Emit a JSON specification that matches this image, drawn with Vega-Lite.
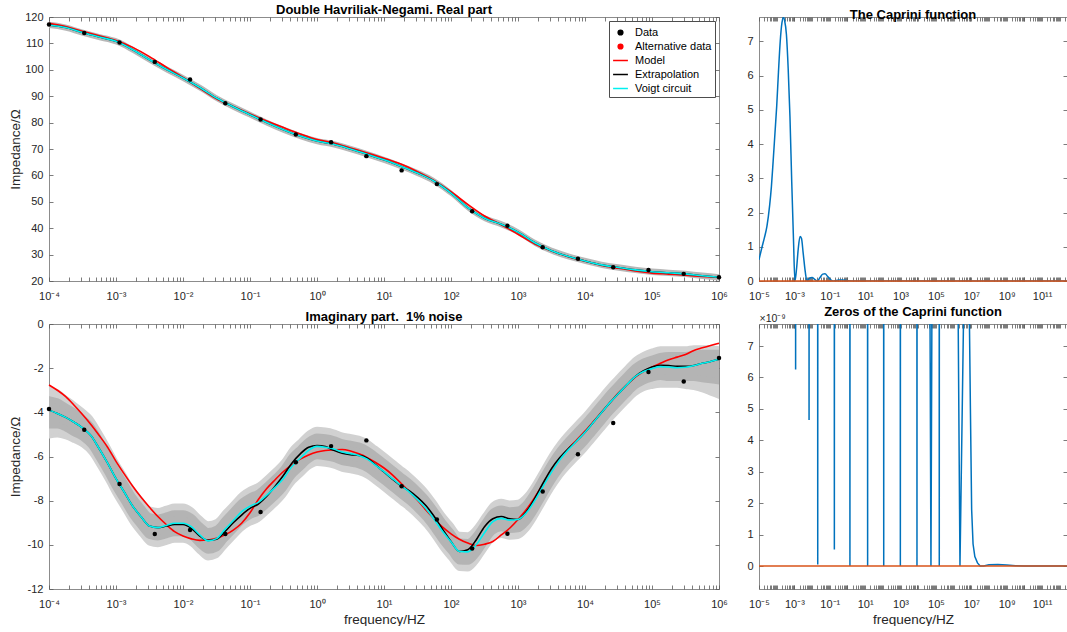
{
  "$schema": "https://vega.github.io/schema/vega-lite/v6.json",
  "background": "white",
  "padding": {"left": 7, "top": 3, "right": 0, "bottom": 0},
  "config": {
    "font": "Liberation Sans",
    "view": {"stroke": "#8c8c8c", "strokeWidth": 1},
    "axis": {"domain": false, "grid": false, "tickSize": -4, "tickColor": "#5a5a5a", "tickWidth": 0.8, "labelOverlap": false, "labelFont": "Liberation Sans", "labelFontSize": 11, "labelColor": "#262626", "titleFont": "Liberation Sans", "titleFontSize": 13.5, "titleFontWeight": "normal", "titleColor": "#262626"},
    "axisX": {"labelPadding": 13},
    "axisY": {"labelPadding": 10},
    "title": {"font": "Liberation Sans", "fontSize": 13, "fontWeight": "bold", "color": "#000000", "offset": -5.5, "baseline": "alphabetic", "anchor": "middle"},
    "legend": {"labelFont": "Liberation Sans", "labelFontSize": 11, "labelColor": "#000000", "padding": 3, "rowPadding": 0, "symbolSize": 100, "labelOffset": 6, "symbolStrokeWidth": 1.5, "strokeColor": "#4d4d4d", "fillColor": "#ffffff"}
  },
  "datasets": {
    "realc": [
      {"f":1e-4,"c":117.0,"r":117.6,"lo":115.8,"hi":118.2},
      {"f":1.7783e-4,"c":116.0,"r":116.4,"lo":114.8,"hi":117.2},
      {"f":3.1623e-4,"c":114.1,"r":114.6,"lo":112.9,"hi":115.3},
      {"f":5.6234e-4,"c":112.4,"r":112.9,"lo":111.2,"hi":113.6},
      {"f":1e-3,"c":110.8,"r":111.1,"lo":109.6,"hi":112.0},
      {"f":1.7783e-3,"c":107.6,"r":108.5,"lo":106.4,"hi":108.8},
      {"f":3.1623e-3,"c":103.8,"r":105.0,"lo":102.6,"hi":105.0},
      {"f":5.6234e-3,"c":100.2,"r":101.0,"lo":99.0,"hi":101.4},
      {"f":1e-2,"c":96.9,"r":97.1,"lo":95.7,"hi":98.1},
      {"f":1.7783e-2,"c":93.3,"r":93.0,"lo":92.1,"hi":94.5},
      {"f":3.1623e-2,"c":89.3,"r":89.0,"lo":88.1,"hi":90.5},
      {"f":5.6234e-2,"c":86.0,"r":86.1,"lo":84.8,"hi":87.2},
      {"f":0.1,"c":83.0,"r":83.3,"lo":81.8,"hi":84.2},
      {"f":0.17783,"c":80.0,"r":80.6,"lo":78.8,"hi":81.2},
      {"f":0.31623,"c":77.3,"r":78.1,"lo":76.1,"hi":78.5},
      {"f":0.56234,"c":74.9,"r":75.7,"lo":73.7,"hi":76.1},
      {"f":1,"c":73.0,"r":73.6,"lo":71.8,"hi":74.2},
      {"f":1.7783,"c":71.8,"r":72.3,"lo":70.6,"hi":73.0},
      {"f":3.1623,"c":70.0,"r":70.4,"lo":68.8,"hi":71.2},
      {"f":5.6234,"c":68.0,"r":68.5,"lo":66.8,"hi":69.2},
      {"f":10,"c":65.9,"r":66.5,"lo":64.7,"hi":67.1},
      {"f":17.783,"c":63.5,"r":64.3,"lo":62.3,"hi":64.7},
      {"f":31.623,"c":60.9,"r":61.4,"lo":59.7,"hi":62.1},
      {"f":56.234,"c":57.8,"r":58.0,"lo":56.6,"hi":59.0},
      {"f":100,"c":53.3,"r":53.8,"lo":52.1,"hi":54.5},
      {"f":177.83,"c":47.8,"r":49.0,"lo":46.6,"hi":49.0},
      {"f":316.23,"c":43.8,"r":44.6,"lo":42.6,"hi":45.0},
      {"f":562.34,"c":41.5,"r":41.3,"lo":40.3,"hi":42.7},
      {"f":1000,"c":38.5,"r":37.7,"lo":37.3,"hi":39.7},
      {"f":1778.3,"c":34.5,"r":34.0,"lo":33.3,"hi":35.7},
      {"f":3162.3,"c":31.5,"r":31.4,"lo":30.3,"hi":32.7},
      {"f":5623.4,"c":29.3,"r":29.2,"lo":28.1,"hi":30.5},
      {"f":10000,"c":27.6,"r":27.5,"lo":26.4,"hi":28.8},
      {"f":17783,"c":26.1,"r":25.9,"lo":24.9,"hi":27.3},
      {"f":31623,"c":25.1,"r":24.8,"lo":23.9,"hi":26.3},
      {"f":56234,"c":24.2,"r":23.8,"lo":23.0,"hi":25.4},
      {"f":100000,"c":23.5,"r":23.0,"lo":22.3,"hi":24.7},
      {"f":177830,"c":23.1,"r":22.6,"lo":21.9,"hi":24.3},
      {"f":316230,"c":22.7,"r":22.2,"lo":21.5,"hi":23.9},
      {"f":562340,"c":22.0,"r":21.7,"lo":20.8,"hi":23.2},
      {"f":1000000,"c":21.4,"r":21.3,"lo":20.2,"hi":22.6}
    ],
    "realDots": [
      {"f":1e-4,"v":117.2},{"f":3.3598e-4,"v":113.9},{"f":1.1288e-3,"v":110.3},{"f":3.7927e-3,"v":103.0},
      {"f":1.2743e-2,"v":96.3},{"f":4.2813e-2,"v":87.3},{"f":0.14384,"v":81.2},{"f":0.48329,"v":75.5},
      {"f":1.6238,"v":72.6},{"f":5.4556,"v":67.3},{"f":18.330,"v":61.9},{"f":61.585,"v":56.7},
      {"f":206.91,"v":46.4},{"f":695.19,"v":40.9},{"f":2335.7,"v":32.8},{"f":7847.6,"v":28.4},
      {"f":26367,"v":25.2},{"f":88587,"v":24.2},{"f":297640,"v":22.7},{"f":1000000,"v":21.4}
    ],
    "imagc": [
      {"f":1e-4,"c":-3.90,"b":-3.90,"r":-2.76,"lo":-4.6,"hi":-3.4,"lo2":-5.1,"hi2":-2.9},
      {"f":1.3335e-4,"c":-4.05,"b":-4.05,"r":-3.00,"lo":-4.6,"hi":-3.5,"lo2":-5.05,"hi2":-3.05},
      {"f":1.7783e-4,"c":-4.23,"b":-4.23,"r":-3.29,"lo":-4.73,"hi":-3.73,"lo2":-5.13,"hi2":-3.33},
      {"f":2.3714e-4,"c":-4.45,"b":-4.45,"r":-3.68,"lo":-4.95,"hi":-3.95,"lo2":-5.3,"hi2":-3.6},
      {"f":3.1623e-4,"c":-4.70,"b":-4.70,"r":-4.10,"lo":-5.15,"hi":-4.25,"lo2":-5.5,"hi2":-3.9},
      {"f":4.2170e-4,"c":-5.05,"b":-5.05,"r":-4.55,"lo":-5.5,"hi":-4.6,"lo2":-5.85,"hi2":-4.25},
      {"f":5.6234e-4,"c":-5.65,"b":-5.65,"r":-5.05,"lo":-6.1,"hi":-5.2,"lo2":-6.45,"hi2":-4.85},
      {"f":7.4989e-4,"c":-6.30,"b":-6.30,"r":-5.58,"lo":-6.75,"hi":-5.85,"lo2":-7.1,"hi2":-5.5},
      {"f":1e-3,"c":-7.00,"b":-7.00,"r":-6.22,"lo":-7.45,"hi":-6.55,"lo2":-7.8,"hi2":-6.2},
      {"f":1.3335e-3,"c":-7.62,"b":-7.62,"r":-6.80,"lo":-8.07,"hi":-7.17,"lo2":-8.42,"hi2":-6.82},
      {"f":1.7783e-3,"c":-8.25,"b":-8.25,"r":-7.35,"lo":-8.7,"hi":-7.8,"lo2":-9.05,"hi2":-7.45},
      {"f":2.3714e-3,"c":-8.73,"b":-8.73,"r":-7.85,"lo":-9.18,"hi":-8.28,"lo2":-9.53,"hi2":-7.93},
      {"f":3.1623e-3,"c":-9.15,"b":-9.15,"r":-8.30,"lo":-9.6,"hi":-8.7,"lo2":-9.95,"hi2":-8.35},
      {"f":4.2170e-3,"c":-9.22,"b":-9.22,"r":-8.72,"lo":-9.67,"hi":-8.77,"lo2":-10.02,"hi2":-8.42},
      {"f":5.6234e-3,"c":-9.12,"b":-9.15,"r":-9.08,"lo":-9.57,"hi":-8.67,"lo2":-9.92,"hi2":-8.32},
      {"f":7.4989e-3,"c":-9.02,"b":-9.08,"r":-9.40,"lo":-9.47,"hi":-8.57,"lo2":-9.82,"hi2":-8.22},
      {"f":1e-2,"c":-9.02,"b":-9.08,"r":-9.60,"lo":-9.47,"hi":-8.57,"lo2":-9.82,"hi2":-8.22},
      {"f":1.3335e-2,"c":-9.18,"b":-9.25,"r":-9.73,"lo":-9.63,"hi":-8.73,"lo2":-9.98,"hi2":-8.38},
      {"f":1.7783e-2,"c":-9.55,"b":-9.60,"r":-9.80,"lo":-10.0,"hi":-9.1,"lo2":-10.35,"hi2":-8.75},
      {"f":2.3714e-2,"c":-9.82,"b":-9.80,"r":-9.78,"lo":-10.27,"hi":-9.37,"lo2":-10.62,"hi2":-9.02},
      {"f":3.1623e-2,"c":-9.72,"b":-9.75,"r":-9.70,"lo":-10.17,"hi":-9.27,"lo2":-10.52,"hi2":-8.92},
      {"f":4.2170e-2,"c":-9.30,"b":-9.40,"r":-9.55,"lo":-9.75,"hi":-8.85,"lo2":-10.1,"hi2":-8.5},
      {"f":5.6234e-2,"c":-8.90,"b":-9.00,"r":-9.33,"lo":-9.35,"hi":-8.45,"lo2":-9.7,"hi2":-8.1},
      {"f":7.4989e-2,"c":-8.50,"b":-8.65,"r":-9.02,"lo":-8.95,"hi":-8.05,"lo2":-9.3,"hi2":-7.7},
      {"f":0.1,"c":-8.25,"b":-8.35,"r":-8.55,"lo":-8.7,"hi":-7.8,"lo2":-9.05,"hi2":-7.45},
      {"f":0.13335,"c":-8.08,"b":-8.15,"r":-7.95,"lo":-8.53,"hi":-7.63,"lo2":-8.88,"hi2":-7.28},
      {"f":0.17783,"c":-7.75,"b":-7.80,"r":-7.45,"lo":-8.2,"hi":-7.3,"lo2":-8.55,"hi2":-6.95},
      {"f":0.23714,"c":-7.40,"b":-7.35,"r":-7.05,"lo":-7.85,"hi":-6.95,"lo2":-8.2,"hi2":-6.6},
      {"f":0.31623,"c":-7.00,"b":-6.85,"r":-6.68,"lo":-7.45,"hi":-6.55,"lo2":-7.8,"hi2":-6.2},
      {"f":0.42170,"c":-6.45,"b":-6.30,"r":-6.38,"lo":-6.9,"hi":-6.0,"lo2":-7.25,"hi2":-5.65},
      {"f":0.56234,"c":-6.08,"b":-5.88,"r":-6.12,"lo":-6.53,"hi":-5.63,"lo2":-6.88,"hi2":-5.28},
      {"f":0.74989,"c":-5.72,"b":-5.58,"r":-5.93,"lo":-6.17,"hi":-5.27,"lo2":-6.52,"hi2":-4.92},
      {"f":1,"c":-5.54,"b":-5.50,"r":-5.80,"lo":-5.99,"hi":-5.09,"lo2":-6.34,"hi2":-4.74},
      {"f":1.3335,"c":-5.58,"b":-5.55,"r":-5.73,"lo":-6.03,"hi":-5.13,"lo2":-6.38,"hi2":-4.78},
      {"f":1.7783,"c":-5.66,"b":-5.72,"r":-5.70,"lo":-6.11,"hi":-5.21,"lo2":-6.46,"hi2":-4.86},
      {"f":2.3714,"c":-5.80,"b":-5.85,"r":-5.68,"lo":-6.25,"hi":-5.35,"lo2":-6.6,"hi2":-5.0},
      {"f":3.1623,"c":-5.87,"b":-5.92,"r":-5.75,"lo":-6.32,"hi":-5.42,"lo2":-6.67,"hi2":-5.07},
      {"f":4.2170,"c":-5.95,"b":-5.95,"r":-5.88,"lo":-6.4,"hi":-5.5,"lo2":-6.75,"hi2":-5.15},
      {"f":5.6234,"c":-6.12,"b":-6.08,"r":-6.05,"lo":-6.57,"hi":-5.67,"lo2":-6.92,"hi2":-5.32},
      {"f":7.4989,"c":-6.40,"b":-6.38,"r":-6.27,"lo":-6.85,"hi":-5.95,"lo2":-7.2,"hi2":-5.6},
      {"f":10,"c":-6.69,"b":-6.70,"r":-6.52,"lo":-7.14,"hi":-6.24,"lo2":-7.49,"hi2":-5.89},
      {"f":13.335,"c":-7.00,"b":-7.02,"r":-6.83,"lo":-7.45,"hi":-6.55,"lo2":-7.8,"hi2":-6.2},
      {"f":17.783,"c":-7.30,"b":-7.32,"r":-7.20,"lo":-7.75,"hi":-6.85,"lo2":-8.1,"hi2":-6.5},
      {"f":23.714,"c":-7.60,"b":-7.55,"r":-7.58,"lo":-8.05,"hi":-7.15,"lo2":-8.4,"hi2":-6.8},
      {"f":31.623,"c":-7.95,"b":-7.85,"r":-7.98,"lo":-8.4,"hi":-7.5,"lo2":-8.75,"hi2":-7.15},
      {"f":42.170,"c":-8.35,"b":-8.22,"r":-8.42,"lo":-8.8,"hi":-7.9,"lo2":-9.15,"hi2":-7.55},
      {"f":56.234,"c":-8.85,"b":-8.72,"r":-8.83,"lo":-9.3,"hi":-8.4,"lo2":-9.65,"hi2":-8.05},
      {"f":74.989,"c":-9.40,"b":-9.30,"r":-9.20,"lo":-9.85,"hi":-8.95,"lo2":-10.2,"hi2":-8.6},
      {"f":100,"c":-9.86,"b":-9.85,"r":-9.50,"lo":-10.31,"hi":-9.41,"lo2":-10.66,"hi2":-9.06},
      {"f":133.35,"c":-10.30,"b":-10.30,"r":-9.75,"lo":-10.75,"hi":-9.85,"lo2":-11.1,"hi2":-9.5},
      {"f":177.83,"c":-10.32,"b":-10.22,"r":-9.92,"lo":-10.77,"hi":-9.87,"lo2":-11.12,"hi2":-9.52},
      {"f":237.14,"c":-10.00,"b":-9.78,"r":-10.03,"lo":-10.45,"hi":-9.55,"lo2":-10.8,"hi2":-9.2},
      {"f":316.23,"c":-9.45,"b":-9.18,"r":-9.97,"lo":-9.9,"hi":-9.0,"lo2":-10.25,"hi2":-8.65},
      {"f":421.70,"c":-8.95,"b":-8.82,"r":-9.85,"lo":-9.4,"hi":-8.5,"lo2":-9.75,"hi2":-8.15},
      {"f":562.34,"c":-8.80,"b":-8.72,"r":-9.55,"lo":-9.25,"hi":-8.35,"lo2":-9.6,"hi2":-8.0},
      {"f":749.89,"c":-8.88,"b":-8.82,"r":-9.25,"lo":-9.33,"hi":-8.43,"lo2":-9.68,"hi2":-8.08},
      {"f":1000,"c":-8.85,"b":-8.85,"r":-8.85,"lo":-9.3,"hi":-8.4,"lo2":-9.65,"hi2":-8.05},
      {"f":1333.5,"c":-8.55,"b":-8.50,"r":-8.40,"lo":-9.0,"hi":-8.1,"lo2":-9.35,"hi2":-7.75},
      {"f":1778.3,"c":-8.00,"b":-7.90,"r":-7.85,"lo":-8.45,"hi":-7.55,"lo2":-8.8,"hi2":-7.2},
      {"f":2371.4,"c":-7.35,"b":-7.20,"r":-7.25,"lo":-7.8,"hi":-6.9,"lo2":-8.15,"hi2":-6.55},
      {"f":3162.3,"c":-6.70,"b":-6.55,"r":-6.65,"lo":-7.15,"hi":-6.25,"lo2":-7.5,"hi2":-5.9},
      {"f":4217.0,"c":-6.15,"b":-6.05,"r":-6.10,"lo":-6.6,"hi":-5.7,"lo2":-6.95,"hi2":-5.35},
      {"f":5623.4,"c":-5.70,"b":-5.65,"r":-5.65,"lo":-6.15,"hi":-5.25,"lo2":-6.5,"hi2":-4.9},
      {"f":7498.9,"c":-5.30,"b":-5.30,"r":-5.25,"lo":-5.75,"hi":-4.85,"lo2":-6.1,"hi2":-4.5},
      {"f":10000,"c":-4.90,"b":-4.90,"r":-4.85,"lo":-5.35,"hi":-4.45,"lo2":-5.7,"hi2":-4.1},
      {"f":13335,"c":-4.45,"b":-4.45,"r":-4.42,"lo":-4.9,"hi":-4.0,"lo2":-5.25,"hi2":-3.65},
      {"f":17783,"c":-4.00,"b":-4.00,"r":-3.98,"lo":-4.45,"hi":-3.55,"lo2":-4.8,"hi2":-3.2},
      {"f":23714,"c":-3.55,"b":-3.55,"r":-3.55,"lo":-4.0,"hi":-3.1,"lo2":-4.35,"hi2":-2.75},
      {"f":31623,"c":-3.15,"b":-3.15,"r":-3.12,"lo":-3.6,"hi":-2.7,"lo2":-3.95,"hi2":-2.35},
      {"f":42170,"c":-2.75,"b":-2.75,"r":-2.75,"lo":-3.2,"hi":-2.3,"lo2":-3.55,"hi2":-1.95},
      {"f":56234,"c":-2.38,"b":-2.38,"r":-2.40,"lo":-2.83,"hi":-1.93,"lo2":-3.18,"hi2":-1.58},
      {"f":74989,"c":-2.15,"b":-2.12,"r":-2.15,"lo":-2.6,"hi":-1.7,"lo2":-2.95,"hi2":-1.35},
      {"f":100000,"c":-2.02,"b":-1.95,"r":-1.95,"lo":-2.47,"hi":-1.57,"lo2":-2.85,"hi2":-1.2},
      {"f":133350,"c":-1.93,"b":-1.87,"r":-1.78,"lo":-2.4,"hi":-1.45,"lo2":-2.8,"hi2":-1.1},
      {"f":177830,"c":-1.95,"b":-1.88,"r":-1.62,"lo":-2.45,"hi":-1.4,"lo2":-2.8,"hi2":-1.1},
      {"f":237140,"c":-1.98,"b":-1.92,"r":-1.50,"lo":-2.45,"hi":-1.4,"lo2":-2.8,"hi2":-1.1},
      {"f":316230,"c":-1.96,"b":-1.92,"r":-1.38,"lo":-2.45,"hi":-1.4,"lo2":-2.85,"hi2":-1.1},
      {"f":421700,"c":-1.88,"b":-1.88,"r":-1.20,"lo":-2.45,"hi":-1.35,"lo2":-2.9,"hi2":-1.05},
      {"f":562340,"c":-1.78,"b":-1.78,"r":-1.08,"lo":-2.5,"hi":-1.3,"lo2":-3.0,"hi2":-1.05},
      {"f":749890,"c":-1.70,"b":-1.70,"r":-0.97,"lo":-2.55,"hi":-1.3,"lo2":-3.15,"hi2":-1.05},
      {"f":1000000,"c":-1.60,"b":-1.60,"r":-0.87,"lo":-2.6,"hi":-1.3,"lo2":-3.3,"hi2":-1.1}
    ],
    "imagDots": [
      {"f":1e-4,"v":-3.85},{"f":3.3598e-4,"v":-4.79},{"f":1.1288e-3,"v":-7.25},{"f":3.7927e-3,"v":-9.51},
      {"f":1.2743e-2,"v":-9.33},{"f":4.2813e-2,"v":-9.51},{"f":0.14384,"v":-8.51},{"f":0.48329,"v":-6.26},
      {"f":1.6238,"v":-5.53},{"f":5.4556,"v":-5.27},{"f":18.330,"v":-7.35},{"f":61.585,"v":-8.85},
      {"f":206.91,"v":-10.17},{"f":695.19,"v":-9.50},{"f":2335.7,"v":-7.58},{"f":7847.6,"v":-5.90},
      {"f":26367,"v":-4.48},{"f":88587,"v":-2.17},{"f":297640,"v":-2.60},{"f":1000000,"v":-1.54}
    ],
    "cap": [
      {"f":1e-5,"v":0.62},{"f":1.4125e-5,"v":0.95},{"f":1.9953e-5,"v":1.25},{"f":2.8184e-5,"v":1.6},
      {"f":3.9811e-5,"v":2.2},{"f":5.0119e-5,"v":2.75},{"f":6.3096e-5,"v":3.5},{"f":7.9433e-5,"v":4.3},
      {"f":1e-4,"v":5.1},{"f":1.2589e-4,"v":6.1},{"f":1.5849e-4,"v":7.0},{"f":1.9953e-4,"v":7.55},
      {"f":2.3988e-4,"v":7.7},{"f":2.8184e-4,"v":7.6},{"f":3.5481e-4,"v":7.2},{"f":4.4668e-4,"v":6.2},
      {"f":5.6234e-4,"v":4.8},{"f":7.0795e-4,"v":2.9},{"f":8.9125e-4,"v":1.2},{"f":1.0715e-3,"v":0},
      {"f":1.3490e-3,"v":0.4},{"f":1.6596e-3,"v":0.95},{"f":2.0893e-3,"v":1.3},{"f":2.5119e-3,"v":1.25},
      {"f":3.1623e-3,"v":0.8},{"f":4.1687e-3,"v":0.25},{"f":5.1286e-3,"v":0},{"f":7.0795e-3,"v":0.08},
      {"f":1e-2,"v":0.1},{"f":1.4125e-2,"v":0.05},{"f":1.9953e-2,"v":0},{"f":2.8184e-2,"v":0.1},
      {"f":3.9811e-2,"v":0.2},{"f":5.3703e-2,"v":0.21},{"f":7.9433e-2,"v":0.12},{"f":0.12589,"v":0.02},
      {"f":0.17378,"v":0},{"f":0.31623,"v":0.03},{"f":0.50119,"v":0.03},{"f":1,"v":0.01},
      {"f":3.1623,"v":0},{"f":2.5704e12,"v":0}
    ],
    "zer": [
      {"f":1e-5,"v":100},{"f":1.0471e-3,"v":100},{"f":1.1749e-3,"v":6.25},{"f":1.3183e-3,"v":100},
      {"f":6.0256e-3,"v":100},{"f":6.7608e-3,"v":4.65},{"f":7.5858e-3,"v":100},
      {"f":1.8621e-2,"v":100},{"f":2.0893e-2,"v":0.05},{"f":2.3442e-2,"v":100},
      {"f":0.16218,"v":100},{"f":0.18197,"v":0.53},{"f":0.20417,"v":100},
      {"f":1.2303,"v":100},{"f":1.3804,"v":0},{"f":1.5488,"v":100},
      {"f":12.303,"v":100},{"f":13.804,"v":0},{"f":15.488,"v":100},
      {"f":100,"v":100},{"f":112.20,"v":0},{"f":125.89,"v":100},
      {"f":870.96,"v":100},{"f":977.24,"v":0},{"f":1096.5,"v":100},
      {"f":7585.8,"v":100},{"f":8511.4,"v":0},{"f":9549.9,"v":100},
      {"f":45709,"v":9},{"f":52481,"v":0},{"f":60256,"v":9},
      {"f":138038,"v":100},{"f":154882,"v":0},{"f":173780,"v":100},
      {"f":1778279,"v":8.5},{"f":2290868,"v":0},{"f":3715352,"v":8.2},{"f":5248075,"v":60},
      {"f":7413102,"v":9},{"f":8912509,"v":5.0},{"f":1.0471e7,"v":1.8},{"f":1.2589e7,"v":0.7},
      {"f":1.5849e7,"v":0.3},{"f":2.2387e7,"v":0.1},{"f":3.1623e7,"v":0},{"f":5.0119e7,"v":0},
      {"f":1e8,"v":0.04},{"f":3.1623e8,"v":0.05},{"f":1e9,"v":0.03},{"f":3.1623e9,"v":0.01},
      {"f":1e10,"v":0},{"f":2.5704e12,"v":0}
    ],
    "zero": [{"f":1e-5,"v":0},{"f":2.5704e12,"v":0}]
  },
  "columns": 2,
  "spacing": {"row": 43, "column": 40},
  "bounds": "flush",
  "align": "each",
  "resolve": {"scale": {"color": "independent"}, "legend": {"color": "independent"}},
  "concat": [
    {
      "width": 670, "height": 264,
      "title": "Double Havriliak-Negami. Real part",
      "resolve": {"axis": {"x": "independent", "y": "independent"}},
      "layer": [
        {
          "encoding": {"x": {"field": "f", "type": "quantitative", "scale": {"type": "log", "domain": [1e-4, 1e6], "nice": false},
            "axis": {"title": null, "tickCount": 60, "labelOverlap": false, "labelFlush": false,
              "labelExpr": "abs(log(datum.value)/LN10 - round(log(datum.value)/LN10)) < 0.01 ? '10' + (datum.value < 1 ? '⁻' : '') + (abs(round(log(datum.value)/LN10)) >= 10 ? '¹' : '') + substring('⁰¹²³⁴⁵⁶⁷⁸⁹', abs(round(log(datum.value)/LN10)) % 10, abs(round(log(datum.value)/LN10)) % 10 + 1) : ''"}}},
          "layer": [
            {"data": {"name": "realc"}, "mark": {"type": "area", "color": "#b8b8b8", "interpolate": "monotone"},
             "encoding": {"y": {"field": "lo", "type": "quantitative", "scale": {"domain": [20, 120], "nice": false, "zero": false},
               "axis": {"values": [20,30,40,50,60,70,80,90,100,110,120], "tickCount": 30, "labelOverlap": false, "labelExpr": "'' + datum.value", "title": "Impedance/Ω", "titleX": -30, "titleAngle": 270, "titleBaseline": "alphabetic", "titleAlign": "center"}},
               "y2": {"field": "hi"}}},
            {"data": {"name": "realc"}, "mark": {"type": "line", "strokeWidth": 1.6, "interpolate": "monotone"},
             "encoding": {"y": {"field": "r", "type": "quantitative"},
               "color": {"datum": "Model",
                 "scale": {"domain": ["Data", "Alternative data", "Model", "Extrapolation", "Voigt circuit"], "range": ["#000000", "#ff0000", "#ff0000", "#000000", "#00f0f0"]},
                 "legend": {"title": null, "orient": "top-right", "offset": 4,
                   "encode": {"symbols": {"update": {
                     "shape": {"signal": "(datum.value === 'Data' || datum.value === 'Alternative data') ? 'circle' : 'stroke'"},
                     "size": {"signal": "(datum.value === 'Data' || datum.value === 'Alternative data') ? 22 : 220"},
                     "fill": {"signal": "datum.value === 'Voigt circuit' ? '#00f0f0' : ((datum.value === 'Data' || datum.value === 'Extrapolation') ? '#000000' : '#ff0000')"},
                     "stroke": {"signal": "(datum.value === 'Data' || datum.value === 'Alternative data') ? 'transparent' : (datum.value === 'Voigt circuit' ? '#00f0f0' : (datum.value === 'Extrapolation' ? '#000000' : '#ff0000'))"},
                     "strokeWidth": {"value": 1.5},
                     "opacity": {"value": 1}
                   }}}}}}},
            {"data": {"name": "realc"}, "mark": {"type": "line", "strokeWidth": 1.6, "interpolate": "monotone"},
             "encoding": {"y": {"field": "c", "type": "quantitative"}, "color": {"datum": "Extrapolation"}}},
            {"data": {"name": "realc"}, "mark": {"type": "line", "strokeWidth": 1.6, "interpolate": "monotone"},
             "encoding": {"y": {"field": "c", "type": "quantitative"}, "color": {"datum": "Voigt circuit"}}},
            {"data": {"name": "realDots"}, "mark": {"type": "point", "filled": true, "size": 20, "opacity": 1},
             "encoding": {"y": {"field": "v", "type": "quantitative"}, "color": {"datum": "Data"}}}
          ]
        },
        {"data": {"name": "realDots"}, "mark": {"type": "point", "opacity": 0},
         "encoding": {"x": {"field": "f", "type": "quantitative", "axis": {"orient": "top", "labels": false, "title": null, "tickCount": 60}},
           "y": {"field": "v", "type": "quantitative", "axis": {"orient": "right", "labels": false, "title": null, "values": [20,30,40,50,60,70,80,90,100,110,120], "tickCount": 30}}}}
      ]
    },
    {
      "width": 308, "height": 264,
      "title": "The Caprini function",
      "resolve": {"axis": {"x": "independent", "y": "independent"}},
      "layer": [
        {
          "encoding": {"x": {"field": "f", "type": "quantitative", "scale": {"type": "log", "domain": [1e-5, 2.5704e12], "nice": false},
            "axis": {"title": null, "tickCount": 60, "labelOverlap": false, "labelFlush": false,
              "labelExpr": "abs(log(datum.value)/LN10 - round(log(datum.value)/LN10)) < 0.01 && abs(round(log(datum.value)/LN10)) % 2 == 1 ? '10' + (datum.value < 1 ? '⁻' : '') + (abs(round(log(datum.value)/LN10)) >= 10 ? '¹' : '') + substring('⁰¹²³⁴⁵⁶⁷⁸⁹', abs(round(log(datum.value)/LN10)) % 10, abs(round(log(datum.value)/LN10)) % 10 + 1) : ''"}}},
          "layer": [
            {"data": {"name": "cap"}, "mark": {"type": "line", "color": "#0072BD", "strokeWidth": 1.5, "interpolate": "monotone", "clip": true},
             "encoding": {"y": {"field": "v", "type": "quantitative", "scale": {"domain": [0, 7.71], "nice": false, "zero": false},
               "axis": {"values": [0,1,2,3,4,5,6,7], "tickCount": 30, "labelOverlap": false, "labelExpr": "'' + datum.value", "title": null}}}},
            {"data": {"name": "zero"}, "mark": {"type": "line", "color": "#D95319", "strokeWidth": 1.5, "clip": false},
             "encoding": {"y": {"field": "v", "type": "quantitative"}}}
          ]
        },
        {"data": {"name": "zero"}, "mark": {"type": "point", "opacity": 0},
         "encoding": {"x": {"field": "f", "type": "quantitative", "axis": {"orient": "top", "labels": false, "title": null, "tickCount": 60}},
           "y": {"field": "v", "type": "quantitative", "axis": {"orient": "right", "labels": false, "title": null, "values": [0,1,2,3,4,5,6,7], "tickCount": 30}}}}
      ]
    },
    {
      "width": 670, "height": 265,
      "title": "Imaginary part.\u00a0 1% noise",
      "resolve": {"axis": {"x": "independent", "y": "independent"}},
      "layer": [
        {
          "encoding": {"x": {"field": "f", "type": "quantitative", "scale": {"type": "log", "domain": [1e-4, 1e6], "nice": false},
            "axis": {"title": "frequency/HZ", "titleY": 34, "titleBaseline": "alphabetic", "tickCount": 60, "labelOverlap": false, "labelFlush": false,
              "labelExpr": "abs(log(datum.value)/LN10 - round(log(datum.value)/LN10)) < 0.01 ? '10' + (datum.value < 1 ? '⁻' : '') + (abs(round(log(datum.value)/LN10)) >= 10 ? '¹' : '') + substring('⁰¹²³⁴⁵⁶⁷⁸⁹', abs(round(log(datum.value)/LN10)) % 10, abs(round(log(datum.value)/LN10)) % 10 + 1) : ''"}}},
          "layer": [
            {"data": {"name": "imagc"}, "mark": {"type": "area", "color": "#d1d1d1", "stroke": "#d1d1d1", "strokeWidth": 4, "interpolate": "monotone", "clip": true},
             "encoding": {"y": {"field": "lo2", "type": "quantitative", "scale": {"domain": [-12, 0], "nice": false, "zero": false},
               "axis": {"values": [-12,-10,-8,-6,-4,-2,0], "tickCount": 30, "labelOverlap": false, "labelExpr": "'' + datum.value", "title": "Impedance/Ω", "titleX": -30, "titleAngle": 270, "titleBaseline": "alphabetic", "titleAlign": "center"}},
               "y2": {"field": "hi2"}}},
            {"data": {"name": "imagc"}, "mark": {"type": "area", "color": "#b4b4b4", "stroke": "#b4b4b4", "strokeWidth": 6, "interpolate": "monotone", "clip": true},
             "encoding": {"y": {"field": "lo", "type": "quantitative"}, "y2": {"field": "hi"}}},
            {"data": {"name": "imagc"}, "mark": {"type": "line", "color": "#ff0000", "strokeWidth": 1.6, "interpolate": "monotone"},
             "encoding": {"y": {"field": "r", "type": "quantitative"}}},
            {"data": {"name": "imagc"}, "mark": {"type": "line", "color": "#000000", "strokeWidth": 1.6, "interpolate": "monotone"},
             "encoding": {"y": {"field": "b", "type": "quantitative"}}},
            {"data": {"name": "imagc"}, "mark": {"type": "line", "color": "#00f0f0", "strokeWidth": 1.6, "interpolate": "monotone"},
             "encoding": {"y": {"field": "c", "type": "quantitative"}}},
            {"data": {"name": "imagDots"}, "mark": {"type": "point", "filled": true, "size": 20, "opacity": 1, "color": "#000000"},
             "encoding": {"y": {"field": "v", "type": "quantitative"}}}
          ]
        },
        {"data": {"name": "imagDots"}, "mark": {"type": "point", "opacity": 0},
         "encoding": {"x": {"field": "f", "type": "quantitative", "axis": {"orient": "top", "labels": false, "title": null, "tickCount": 60}},
           "y": {"field": "v", "type": "quantitative", "axis": {"orient": "right", "labels": false, "title": null, "values": [-12,-10,-8,-6,-4,-2,0], "tickCount": 30}}}}
      ]
    },
    {
      "width": 308, "height": 265,
      "title": "Zeros of the Caprini function",
      "resolve": {"axis": {"x": "independent", "y": "independent"}},
      "layer": [
        {
          "encoding": {"x": {"field": "f", "type": "quantitative", "scale": {"type": "log", "domain": [1e-5, 2.5704e12], "nice": false},
            "axis": {"title": "frequency/HZ", "titleY": 34, "titleBaseline": "alphabetic", "tickCount": 60, "labelOverlap": false, "labelFlush": false,
              "labelExpr": "abs(log(datum.value)/LN10 - round(log(datum.value)/LN10)) < 0.01 && abs(round(log(datum.value)/LN10)) % 2 == 1 ? '10' + (datum.value < 1 ? '⁻' : '') + (abs(round(log(datum.value)/LN10)) >= 10 ? '¹' : '') + substring('⁰¹²³⁴⁵⁶⁷⁸⁹', abs(round(log(datum.value)/LN10)) % 10, abs(round(log(datum.value)/LN10)) % 10 + 1) : ''"}}},
          "layer": [
            {"data": {"name": "zer"}, "mark": {"type": "line", "color": "#0072BD", "strokeWidth": 1.5, "clip": true},
             "encoding": {"y": {"field": "v", "type": "quantitative", "scale": {"domain": [-0.73, 7.7], "nice": false, "zero": false},
               "axis": {"values": [0,1,2,3,4,5,6,7], "tickCount": 30, "labelOverlap": false, "labelExpr": "'' + datum.value", "title": "×10⁻⁹", "titleAngle": 0, "titleX": 0, "titleY": -3, "titleAlign": "left", "titleBaseline": "alphabetic", "titleFontSize": 10.5}}}},
            {"data": {"name": "zero"}, "mark": {"type": "line", "color": "#D95319", "strokeWidth": 1.5},
             "encoding": {"y": {"field": "v", "type": "quantitative"}}}
          ]
        },
        {"data": {"name": "zero"}, "mark": {"type": "point", "opacity": 0},
         "encoding": {"x": {"field": "f", "type": "quantitative", "axis": {"orient": "top", "labels": false, "title": null, "tickCount": 60}},
           "y": {"field": "v", "type": "quantitative", "axis": {"orient": "right", "labels": false, "title": null, "values": [0,1,2,3,4,5,6,7], "tickCount": 30}}}}
      ]
    }
  ]
}
